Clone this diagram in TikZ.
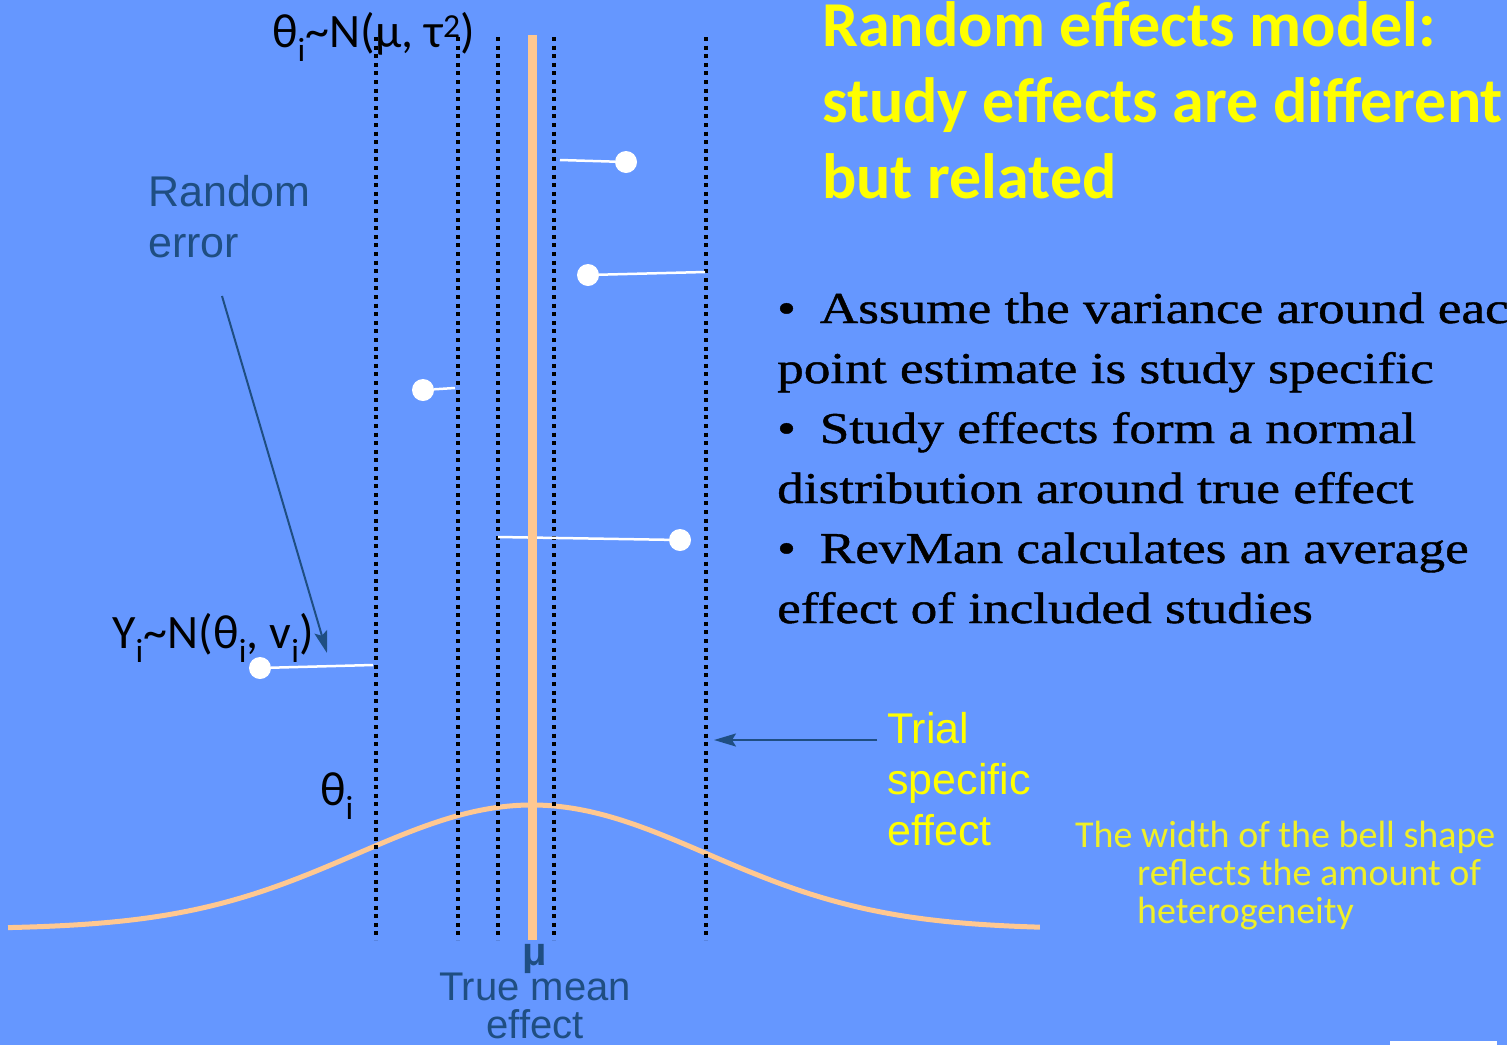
\documentclass[tikz,border=0pt]{standalone}
\usepackage{fontspec}
\setmainfont{Liberation Serif}
\newfontfamily\calfont{Carlito}
\newfontfamily\arialfont{Liberation Sans}
\newfontfamily\bulletfont{Liberation Serif}[FakeStretch=1.21,FakeBold=1]
\usetikzlibrary{arrows.meta}

\definecolor{slidebg}{RGB}{101,151,255}
\definecolor{labelblue}{RGB}{31,78,130}
\definecolor{peach}{RGB}{255,200,145}
\definecolor{titleyellow}{RGB}{255,255,0}
\definecolor{noteyellow}{RGB}{240,240,40}

\begin{document}
\begin{tikzpicture}[x=1pt, y=-1pt, >={Stealth[length=22pt,width=13pt,inset=4pt]},
  dotline/.style={line width=4pt, dash pattern=on 4pt off 4.6pt},
  studypt/.style={circle, fill=white, inner sep=0pt, minimum size=22pt},
  errbar/.style={white, line width=2.5pt},
  bluelbl/.style={text=labelblue, font=\arialfont\fontsize{43}{51}\selectfont, align=left, inner sep=0pt},
  formula/.style={font=\calfont\fontsize{48}{56}\selectfont, inner sep=0pt, anchor=base west},
  pointer/.style={->, labelblue, line width=2pt}]

  % Slide background and frame
  \fill[slidebg] (0,0) rectangle (1507,1045);
  \useasboundingbox (0,0) rectangle (1507,1045);
  \clip (0,0) rectangle (1507,1045);
  \fill[white] (1390,1041) rectangle (1497,1045);

  % Bell curve of the study effects
  \draw[peach, line width=5pt, domain=-2.994:2.903, samples=120, smooth]
    plot ({532+175*\x},{929-124*exp(-\x*\x/2)});

  % Dotted lines: trial specific effects
  \foreach \x in {376,458,498,554,706} {
    \draw[dotline] (\x,37) -- (\x,940);
  }

  % Observed study results with their random error
  \foreach \px/\py/\ex/\ey [count=\i] in
      {626/162/560/160, 588/275/705/272, 423/390/455/388, 680/540/498/537, 260/668/373/665} {
    \coordinate (e\i) at (\ex,\ey);
    \node[studypt] (s\i) at (\px,\py) {};
    \draw[errbar] (s\i) -- (e\i);
  }

  % True mean effect
  \draw[peach, line width=9pt] (532,35) -- (532,940);

  % Formulas
  \node[formula] (thetadist) at (272,47)
    {θ\textsubscript{i}\textasciitilde N(μ, τ\textsuperscript{2})};
  \node[formula] (ydist) at (112,648)
    {Y\textsubscript{i}\textasciitilde N(θ\textsubscript{i}, v\textsubscript{i})};
  \node[formula] (thetai) at (320,805) {θ\textsubscript{i}};

  % Labels (multi-line nodes sit on the baseline of their last line)
  \node[bluelbl, anchor=base west] (randerr) at (148,257) {Random\\error};
  \coordinate (errtail) at (222,296);
  \coordinate (errhead) at (327,653);
  \draw[pointer] (errtail) -- (errhead);

  \node[bluelbl, text=titleyellow, anchor=base west] (trial) at (887,845)
    {Trial\\specific\\effect};
  \coordinate (trialtail) at (877,740);
  \coordinate (trialhead) at (714,740);
  \draw[pointer] (trialtail) -- (trialhead);

  \node[text=labelblue, font=\arialfont\bfseries\fontsize{40}{40}\selectfont,
    inner sep=0pt, anchor=base] (mu) at (535,965) {μ};
  \node[bluelbl, font=\arialfont\fontsize{40}{38}\selectfont, align=center,
    anchor=base] (truemean) at (535,1038) {True mean\\effect};

  % Title
  \node[text=titleyellow, font=\calfont\bfseries\fontsize{64}{76}\selectfont,
    align=left, inner sep=0pt, anchor=base west] (title) at (822,198)
    {Random effects model:\\study effects are different\\but related};

  % Bullet points
  \node[font=\bulletfont\fontsize{44}{60}\selectfont, align=left, inner sep=0pt,
    anchor=base west] (bullets) at (777,623)
    {•\hspace{24pt}Assume the variance around each\\
     point estimate is study specific\\
     •\hspace{24pt}Study effects form a normal\\
     distribution around true effect\\
     •\hspace{24pt}RevMan calculates an average\\
     effect of included studies};

  % Note on heterogeneity
  \node[text=noteyellow, font=\calfont\fontsize{38}{38}\selectfont, align=left,
    inner sep=0pt, anchor=base west] (note) at (1075,923)
    {The width of the bell shape\\
     \hspace{62pt}reflects the amount of\\
     \hspace{62pt}heterogeneity};
\end{tikzpicture}
\end{document}
